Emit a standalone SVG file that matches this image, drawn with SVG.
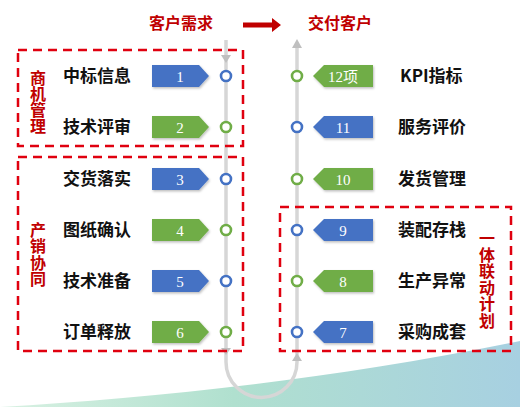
<svg xmlns="http://www.w3.org/2000/svg" width="520" height="407" viewBox="0 0 520 407">
<defs>
<linearGradient id="wave" x1="0" y1="0" x2="1" y2="0">
<stop offset="0" stop-color="#d8f1e2"/>
<stop offset="0.45" stop-color="#b0e0cf"/>
<stop offset="1" stop-color="#a7d0e1"/>
</linearGradient>
<filter id="sh" x="-20%" y="-30%" width="140%" height="170%">
<feDropShadow dx="1" dy="1.5" stdDeviation="1.2" flood-color="#000" flood-opacity="0.25"/>
</filter>
<style>
.lab{font-family:"Noto Sans CJK SC","Liberation Sans",sans-serif;font-weight:bold;font-size:17px;fill:#111}
.red{font-family:"Noto Sans CJK SC","Liberation Sans",sans-serif;font-weight:bold;font-size:16px;fill:#c00000;text-anchor:middle}
.vred{font-family:"Noto Sans CJK SC","Liberation Sans",sans-serif;font-weight:bold;font-size:16px;fill:#c00000;writing-mode:vertical-rl;text-orientation:upright}
.num{font-family:"Liberation Serif","Noto Sans CJK SC",serif;font-size:15px;fill:#fff;text-anchor:middle}
.box{fill:none;stroke:#e0000f;stroke-width:2.5;stroke-dasharray:9 6}
.blue{fill:#4472c4}
.green{fill:#70ad47}
.cb{fill:#fff;stroke:#4472c4;stroke-width:2.6}
.cg{fill:#fff;stroke:#70ad47;stroke-width:2.6}
.line{fill:none;stroke:#d6d6d6;stroke-width:3.5}
.ah{fill:#bfbfbf}
</style>
</defs>
<rect width="520" height="407" fill="#fff"/>
<path d="M0,407 C150,398 330,380 520,341 V407 Z" fill="url(#wave)"/>

<g id="connectors">
<path class="line" d="M226,40 V362 A35.5,35.5 0 0 0 297,362 V44"/>
<polygon class="ah" points="221,55 231,55 226,63"/>
<polygon class="ah" points="221,348 231,348 226,355"/>
<polygon class="ah" points="292,48 302,48 297,39"/>
<polygon class="ah" points="292,361 302,361 297,353"/>
<polygon points="243,22.5 272,22.5 272,18 281,25 272,32 272,27.5 243,27.5" fill="#c00000"/>
</g>

<g id="titles">
<text class="red" x="181" y="29">客户需求</text>
<text class="red" x="340" y="29">交付客户</text>
</g>

<g id="group-shangji">
<rect class="box" x="18" y="50" width="225" height="96"/>
<text class="vred" x="38" y="70">商机管理</text>
</g>
<g id="group-chanxiao">
<rect class="box" x="18" y="157" width="225" height="194"/>
<text class="vred" x="38" y="222" letter-spacing="0.3">产销协同</text>
</g>
<g id="group-yiti">
<rect class="box" x="280" y="207" width="231" height="144"/>
<text class="vred" x="487" y="230" letter-spacing="0.6">一体联动计划</text>
</g>

<g id="node-1">
<text class="lab" x="63" y="82">中标信息</text>
<polygon class="blue" filter="url(#sh)" points="152,65 199,65 209,76 199,87 152,87"/>
<text class="num" x="180" y="81.5">1</text>
<circle class="cb" cx="226" cy="76" r="5"/>
</g>
<g id="node-2">
<text class="lab" x="63" y="133">技术评审</text>
<polygon class="green" filter="url(#sh)" points="152,116 199,116 209,127 199,138 152,138"/>
<text class="num" x="180" y="132.5">2</text>
<circle class="cg" cx="226" cy="127" r="5"/>
</g>
<g id="node-3">
<text class="lab" x="63" y="185">交货落实</text>
<polygon class="blue" filter="url(#sh)" points="152,168 199,168 209,179 199,190 152,190"/>
<text class="num" x="180" y="184.5">3</text>
<circle class="cb" cx="226" cy="179" r="5"/>
</g>
<g id="node-4">
<text class="lab" x="63" y="236">图纸确认</text>
<polygon class="green" filter="url(#sh)" points="152,219 199,219 209,230 199,241 152,241"/>
<text class="num" x="180" y="235.5">4</text>
<circle class="cg" cx="226" cy="230" r="5"/>
</g>
<g id="node-5">
<text class="lab" x="63" y="287">技术准备</text>
<polygon class="blue" filter="url(#sh)" points="152,270 199,270 209,281 199,292 152,292"/>
<text class="num" x="180" y="286.5">5</text>
<circle class="cb" cx="226" cy="281" r="5"/>
</g>
<g id="node-6">
<text class="lab" x="63" y="338">订单释放</text>
<polygon class="green" filter="url(#sh)" points="152,321 199,321 209,332 199,343 152,343"/>
<text class="num" x="180" y="337.5">6</text>
<circle class="cg" cx="226" cy="332" r="5"/>
</g>

<g id="node-12">
<circle class="cg" cx="297" cy="76" r="5"/>
<polygon class="green" filter="url(#sh)" points="313,76 324,65 373,65 373,87 324,87"/>
<text class="num" x="343" y="81.5">12项</text>
<text class="lab" x="400" y="82">KPI指标</text>
</g>
<g id="node-11">
<circle class="cb" cx="297" cy="127" r="5"/>
<polygon class="blue" filter="url(#sh)" points="313,127 324,116 373,116 373,138 324,138"/>
<text class="num" x="343" y="132.5">11</text>
<text class="lab" x="398" y="133">服务评价</text>
</g>
<g id="node-10">
<circle class="cg" cx="297" cy="179" r="5"/>
<polygon class="green" filter="url(#sh)" points="313,179 324,168 373,168 373,190 324,190"/>
<text class="num" x="343" y="184.5">10</text>
<text class="lab" x="398" y="185">发货管理</text>
</g>
<g id="node-9">
<circle class="cb" cx="297" cy="230" r="5"/>
<polygon class="blue" filter="url(#sh)" points="313,230 324,219 373,219 373,241 324,241"/>
<text class="num" x="343" y="235.5">9</text>
<text class="lab" x="398" y="236">装配存栈</text>
</g>
<g id="node-8">
<circle class="cg" cx="297" cy="281" r="5"/>
<polygon class="green" filter="url(#sh)" points="313,281 324,270 373,270 373,292 324,292"/>
<text class="num" x="343" y="286.5">8</text>
<text class="lab" x="398" y="287">生产异常</text>
</g>
<g id="node-7">
<circle class="cb" cx="297" cy="332" r="5"/>
<polygon class="blue" filter="url(#sh)" points="313,332 324,321 373,321 373,343 324,343"/>
<text class="num" x="343" y="337.5">7</text>
<text class="lab" x="398" y="338">采购成套</text>
</g>
</svg>
